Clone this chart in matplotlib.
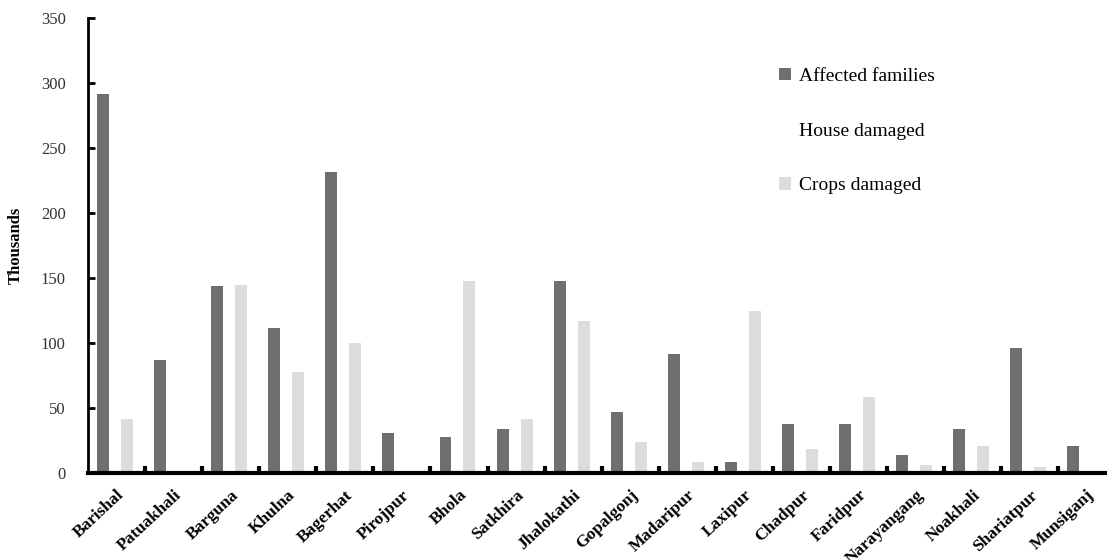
import numpy as np
import matplotlib
matplotlib.use("Agg")
import matplotlib.pyplot as plt

# districts and values (thousands)
districts = ["Barishal", "Patuakhali", "Barguna", "Khulna", "Bagerhat", "Pirojpur",
             "Bhola", "Satkhira", "Jhalokathi", "Gopalgonj", "Madaripur", "Laxipur",
             "Chadpur", "Faridpur", "Narayangang", "Noakhali", "Shariatpur", "Munsiganj"]
affected = [292, 87, 144, 112, 232, 31, 28, 34, 148, 47, 92, 9,
            38, 38, 14, 34, 96, 21]
house = [2, 1, 1, 2, 2, 1, 1, 1, 2, 1, 1, 1,
         1, 1, 1, 1, 1, 1]
crops = [42, 2, 145, 78, 100, 1, 148, 42, 117, 24, 9, 125,
         19, 59, 6, 21, 5, 1]

plt.rcParams['font.family'] = ['Liberation Serif', 'DejaVu Serif']

fig = plt.figure(figsize=(11.07, 5.6), dpi=100)
ax = fig.add_axes([0.0795, 0.155, 0.928, 0.8125])

x = np.arange(len(districts))
w = 0.21
shift = -0.026
ax.bar(x - w + shift, affected, w, color="#6f6f6f", label="Affected families")
ax.bar(x + shift, house, w, color="white", label="House damaged")
ax.bar(x + w + shift, crops, w, color="#dcdcdc", label="Crops damaged")

ax.set_xlim(-0.5, len(districts) - 0.5)
ax.set_ylim(0, 350)
ax.set_yticks(np.arange(0, 351, 50))
ax.tick_params(axis="y", direction="in", length=5, width=2, pad=16,
               labelsize=12, labelcolor="#333333")

# labels at centres, tick marks between districts
ax.set_xticks(x)
ax.set_xticklabels(districts, rotation=43, ha="right", rotation_mode="anchor",
                   fontweight="bold", fontsize=12.5)
ax.tick_params(axis="x", which="major", length=0, pad=10)
ax.set_xticks(x[:-1] + 0.5, minor=True)
ax.tick_params(axis="x", which="minor", direction="in", length=5, width=3)

ax.spines["top"].set_visible(False)
ax.spines["right"].set_visible(False)
ax.spines["left"].set_linewidth(2)
ax.spines["bottom"].set_linewidth(3)

ax.set_ylabel("Thousands", fontweight="bold", fontsize=12, labelpad=12)

ax.legend(loc="upper left", bbox_to_anchor=(0.656, 0.93), frameon=False,
          fontsize=14, handlelength=0.6, handleheight=0.6, handletextpad=0.4,
          labelspacing=1.95)

fig.savefig("out.png", dpi=100)
